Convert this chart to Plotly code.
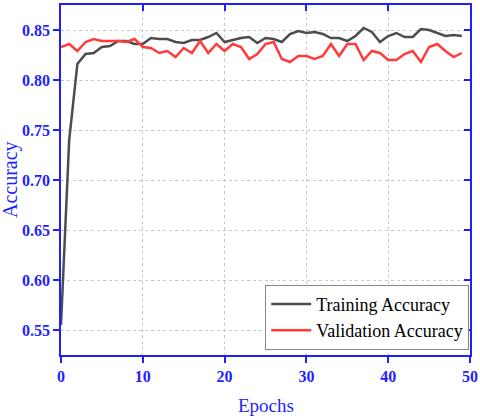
import plotly.graph_objects as go

epochs = list(range(50))
train_acc = [0.555, 0.740, 0.816, 0.826, 0.827, 0.833, 0.834, 0.839, 0.839, 0.836,
             0.836, 0.842, 0.841, 0.841, 0.838, 0.837, 0.840, 0.840, 0.843, 0.847,
             0.838, 0.840, 0.842, 0.843, 0.837, 0.842, 0.841, 0.838, 0.846, 0.849,
             0.847, 0.848, 0.846, 0.842, 0.842, 0.839, 0.844, 0.852, 0.848, 0.838,
             0.844, 0.847, 0.843, 0.843, 0.851, 0.850, 0.847, 0.844, 0.845, 0.844]
val_acc = [0.833, 0.836, 0.829, 0.838, 0.841, 0.839, 0.839, 0.839, 0.838, 0.841,
           0.833, 0.832, 0.827, 0.829, 0.823, 0.832, 0.827, 0.839, 0.827, 0.836,
           0.829, 0.836, 0.833, 0.821, 0.826, 0.836, 0.838, 0.821, 0.818, 0.824,
           0.824, 0.821, 0.824, 0.836, 0.824, 0.836, 0.836, 0.820, 0.829, 0.827,
           0.820, 0.820, 0.826, 0.829, 0.818, 0.833, 0.836, 0.829, 0.823, 0.827]
x_ticks = [0, 10, 20, 30, 40, 50]
y_ticks = [0.55, 0.60, 0.65, 0.70, 0.75, 0.80, 0.85]
x_ticktext = ["<b>%d</b>" % v for v in x_ticks]
y_ticktext = ["<b>%.2f</b>" % v for v in y_ticks]
x_title = "Epochs"
y_title = "Accuracy"

BLUE = "#1f1fff"
FONT = "Liberation Serif"

fig = go.Figure()
fig.add_trace(go.Scatter(x=epochs, y=train_acc, mode="lines", name="Training Accuracy",
                         line=dict(color="#4d4d4d", width=2.5)))
fig.add_trace(go.Scatter(x=epochs, y=val_acc, mode="lines", name="Validation Accuracy",
                         line=dict(color="#ff3b3b", width=2.5)))
# invisible trace that carries the top/right inside ticks
fig.add_trace(go.Scatter(x=[0], y=[0.7], xaxis="x2", yaxis="y2", mode="markers",
                         marker=dict(opacity=0), showlegend=False, hoverinfo="skip"))

axis_common = dict(showline=True, linecolor=BLUE, linewidth=1.5, ticklen=6,
                   tickcolor=BLUE, tickwidth=1.5, zeroline=False, automargin=False)

tickfont = dict(family=FONT, size=16, color=BLUE)
YR = [0.525, 0.875]

fig.update_layout(
    width=480, height=418,
    margin=dict(l=61, r=10, t=5, b=63),
    paper_bgcolor="white", plot_bgcolor="white",
    font=dict(family=FONT),
    xaxis=dict(range=[0, 50], tickvals=x_ticks, ticktext=x_ticktext, ticks="outside",
               showgrid=True, gridcolor="#c8c8c8", griddash="dot", gridwidth=1,
               tickfont=tickfont, **axis_common),
    yaxis=dict(range=YR, tickvals=y_ticks, ticktext=y_ticktext, ticks="outside",
               showgrid=True, gridcolor="#c8c8c8", griddash="dot", gridwidth=1,
               tickfont=tickfont, **axis_common),
    xaxis2=dict(range=[0, 50], tickvals=x_ticks, ticks="inside", side="top",
                overlaying="x", showticklabels=False, showgrid=False, **axis_common),
    yaxis2=dict(range=YR, tickvals=y_ticks, ticks="inside", side="right",
                overlaying="y", showticklabels=False, showgrid=False, **axis_common),
    legend=dict(x=0.998, y=0.015, xanchor="right", yanchor="bottom",
                bgcolor="white", bordercolor="#888888", borderwidth=1,
                font=dict(family=FONT, size=18, color="black"),
                tracegroupgap=0, itemwidth=40),
    showlegend=True,
    annotations=[
        dict(text=x_title, xref="paper", yref="paper", x=0.5, y=0, yshift=-50,
             xanchor="center", yanchor="middle", showarrow=False,
             font=dict(family=FONT, size=19, color=BLUE)),
        dict(text=y_title, xref="paper", yref="paper", x=0, y=0.5, xshift=-51,
             xanchor="center", yanchor="middle", textangle=-90, showarrow=False,
             font=dict(family=FONT, size=20, color=BLUE)),
    ],
)

fig.write_html("out.html", config={"displayModeBar": False},
               post_script="document.body.style.margin='0';document.body.style.overflow='hidden';")
